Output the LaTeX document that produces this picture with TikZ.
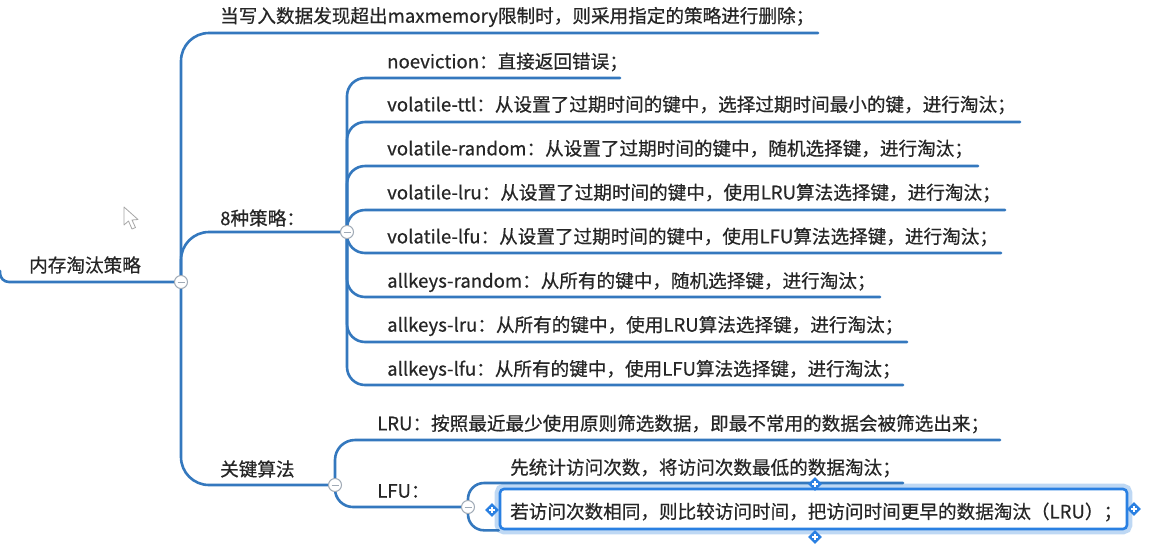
\documentclass[tikz,border=0pt]{standalone}
\usepackage{fontspec}
\newfontfamily\cjk[UprightFeatures={FakeBold=0.5}]{Noto Sans CJK SC}
\usetikzlibrary{shapes.geometric}
\definecolor{lineblue}{RGB}{52,120,190}
\definecolor{selblue}{RGB}{42,128,226}
\definecolor{glow}{RGB}{190,216,244}
\definecolor{txtcol}{RGB}{38,38,38}
\definecolor{collgray}{RGB}{160,170,182}
\pgfdeclarelayer{bg}
\pgfsetlayers{bg,main}
\tikzset{
  br/.style={draw=lineblue, line width=2.6pt, line cap=round},
  txt/.style={anchor=west, inner sep=0pt, text=txtcol, font=\cjk\fontsize{18.6}{20}\selectfont},
  coll/.style={circle, draw=collgray, fill=white, line width=1pt, minimum size=13pt, inner sep=0pt},
  handle/.style={diamond, fill=selblue, minimum size=14pt, inner sep=0pt},
  selbox/.style={rectangle, rounded corners=4pt, draw=selblue, line width=2.6pt, fill=white, inner sep=0pt}
}
\begin{document}
\begin{tikzpicture}[x=1pt,y=-1pt]
\useasboundingbox (0,0) rectangle (1160,550);

% collapse circles
\node[coll] (c0) at (181,282) {};
\node[coll] (c1) at (347,232) {};
\node[coll] (c2) at (335,485) {};
\node[coll] (c3) at (468,507) {};

% texts
\node[txt] (root) at (29,265) {内存淘汰策略};
\node[txt] (t0) at (220,17) {当写入数据发现超出maxmemory限制时，则采用指定的策略进行删除；};
\node[txt] (s8) at (220,218) {8种策略：};
\node[txt] (key) at (220,469) {关键算法};
\node[txt] (p1) at (387,62) {noeviction：直接返回错误；};
\node[txt] (p2) at (387,105) {volatile-ttl：从设置了过期时间的键中，选择过期时间最小的键，进行淘汰；};
\node[txt] (p3) at (387,149) {volatile-random：从设置了过期时间的键中，随机选择键，进行淘汰；};
\node[txt] (p4) at (387,193) {volatile-lru：从设置了过期时间的键中，使用LRU算法选择键，进行淘汰；};
\node[txt] (p5) at (387,237) {volatile-lfu：从设置了过期时间的键中，使用LFU算法选择键，进行淘汰；};
\node[txt] (p6) at (387,282) {allkeys-random：从所有的键中，随机选择键，进行淘汰；};
\node[txt] (p7) at (387,326) {allkeys-lru：从所有的键中，使用LRU算法选择键，进行淘汰；};
\node[txt] (p8) at (387,370) {allkeys-lfu：从所有的键中，使用LFU算法选择键，进行淘汰；};
\node[txt] (lru) at (377,424) {LRU：按照最近最少使用原则筛选数据，即最不常用的数据会被筛选出来；};
\node[txt] (lfu) at (377,491) {LFU：};
\node[txt] (f1) at (510,468) {先统计访问次数，将访问次数最低的数据淘汰；};

% line ends
\coordinate (r0) at (0,271);
\coordinate (e0) at (818,33);
\coordinate (e8) at (345,232);
\coordinate (ek) at (335,485);
\coordinate (ep1) at (620,78);
\coordinate (ep2) at (1020,122);
\coordinate (ep3) at (978,166);
\coordinate (ep4) at (1005,210);
\coordinate (ep5) at (1001,253);
\coordinate (ep6) at (880,297);
\coordinate (ep7) at (907,342);
\coordinate (ep8) at (903,385);
\coordinate (elru) at (1000,440);
\coordinate (ef1) at (903,483);

% selected box
\node[selbox, minimum width=627pt, minimum height=40pt] (box) at (813.5,509) {};
\node[txt] (f2) at (510,512) {若访问次数相同，则比较访问时间，把访问时间更早的数据淘汰（LRU）；};
\node[handle] (hl) at (492,510) {};
\node[handle] (hr) at (1134,509) {};
\node[handle] (ht) at (815,484) {};
\node[handle] (hb) at (815,537) {};
\foreach \h in {hl,hr,ht,hb}
  \draw[white, line width=1.2pt] ([xshift=-3pt]\h.center) -- ([xshift=3pt]\h.center)
        ([yshift=-3pt]\h.center) -- ([yshift=3pt]\h.center);

\begin{pgfonlayer}{bg}
  \fill[white] (0,0) rectangle (1160,550);
  \draw[rounded corners=5pt, draw=glow, line width=8pt] (box.north west) rectangle (box.south east);
  \draw[br, rounded corners=9] (r0) |- (c0.center);
  \draw[br, rounded corners=28] (c0.center) |- (e0);
  \draw[br, rounded corners=28] (c0.center) |- (e8);
  \draw[br, rounded corners=28] (c0.center) |- (ek);
  \foreach \e in {ep1,ep2,ep3,ep4,ep5,ep6,ep7,ep8}
    \draw[br, rounded corners=18] (c1.center) |- (\e);
  \draw[br, rounded corners=20] (c2.center) |- (elru);
  \draw[br, rounded corners=18] (c2.center) |- (c3.center);
  \draw[br, rounded corners=16] (c3.center) |- (ef1);
  \draw[br, rounded corners=16] (c3.center) |- (box.south west);
\end{pgfonlayer}

\foreach \c in {c0,c1,c2,c3}
  \draw[collgray, line width=1pt] ([xshift=-3.5pt]\c.center) -- ([xshift=3.5pt]\c.center);

% mouse pointer
\draw[gray!70, fill=white, line width=0.8pt, line join=round]
  (124,207) -- (124,225) -- (128.5,221) -- (132,229) -- (135.5,227.5) -- (132,220) -- (138,219.5) -- cycle;
\end{tikzpicture}
\end{document}
